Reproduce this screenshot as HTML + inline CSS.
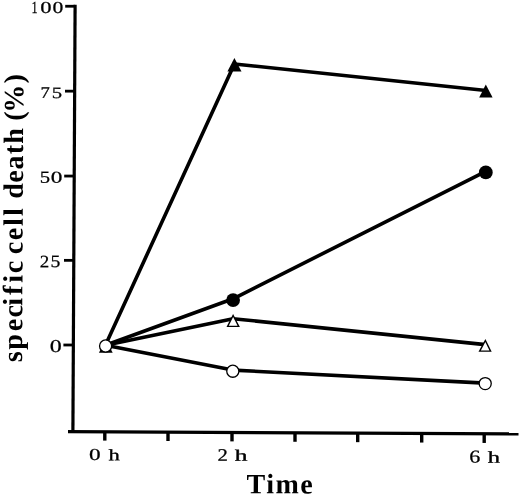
<!DOCTYPE html>
<html><head><meta charset="utf-8"><style>
html,body{margin:0;padding:0;background:#fff;width:520px;height:496px;overflow:hidden}
svg{display:block;will-change:transform}
text{font-family:"Liberation Serif",serif;fill:#000}
</style></head><body>
<svg width="520" height="496" viewBox="0 0 520 496">
<line x1="75.1" y1="4.8" x2="72.9" y2="432.2" stroke="#000" stroke-width="3.2"/>
<line x1="65.2" y1="6.25" x2="75.09" y2="6.25" stroke="#000" stroke-width="2.8"/>
<line x1="65.0" y1="91.15" x2="74.66" y2="91.15" stroke="#000" stroke-width="2.8"/>
<line x1="64.2" y1="176.05" x2="74.22" y2="176.05" stroke="#000" stroke-width="2.8"/>
<line x1="64.0" y1="260.35" x2="73.78" y2="260.35" stroke="#000" stroke-width="2.8"/>
<line x1="63.4" y1="345.0" x2="73.35" y2="345.0" stroke="#000" stroke-width="2.8"/>
<line x1="68" y1="431.6" x2="518.5" y2="433.95" stroke="#000" stroke-width="3.2"/>
<line x1="104.8" y1="431.79" x2="104.8" y2="440.60" stroke="#000" stroke-width="3.4"/>
<line x1="168" y1="432.12" x2="168" y2="440.99" stroke="#000" stroke-width="3.4"/>
<line x1="232" y1="432.45" x2="232" y2="441.39" stroke="#000" stroke-width="3.4"/>
<line x1="295" y1="432.78" x2="295" y2="441.78" stroke="#000" stroke-width="3.4"/>
<line x1="357.7" y1="433.11" x2="357.7" y2="442.17" stroke="#000" stroke-width="3.4"/>
<line x1="421.7" y1="433.44" x2="421.7" y2="442.56" stroke="#000" stroke-width="3.4"/>
<line x1="484.2" y1="433.76" x2="484.2" y2="442.95" stroke="#000" stroke-width="3.4"/>
<polyline points="105.40,345.30 234.40,64.00 486.00,90.50" fill="none" stroke="#000" stroke-width="3.6" stroke-linejoin="round"/>
<polyline points="105.40,345.30 233.10,298.80 485.80,171.30" fill="none" stroke="#000" stroke-width="3.6" stroke-linejoin="round"/>
<polyline points="105.40,345.30 233.10,318.70 485.40,344.60" fill="none" stroke="#000" stroke-width="3.6" stroke-linejoin="round"/>
<polyline points="105.40,345.30 232.80,370.10 485.20,383.10" fill="none" stroke="#000" stroke-width="3.6" stroke-linejoin="round"/>
<polygon points="105.80,339.50 98.90,352.70 112.70,352.70" fill="#000"/>
<polygon points="234.40,58.10 227.40,71.60 241.50,71.60" fill="#000"/>
<polygon points="485.80,84.40 479.20,97.60 492.60,97.60" fill="#000"/>
<circle cx="233.1" cy="300.1" r="6.9" fill="#000"/>
<circle cx="485.8" cy="172.4" r="6.9" fill="#000"/>
<polygon points="233.10,314.00 226.50,327.10 239.90,327.10" fill="#000"/>
<polygon points="233.12,317.07 228.77,325.70 237.60,325.70" fill="#fff"/>
<polygon points="485.40,339.00 478.50,351.80 491.70,351.80" fill="#000"/>
<polygon points="485.34,342.06 480.85,350.40 489.45,350.40" fill="#fff"/>
<circle cx="105.6" cy="346.0" r="6.05" fill="#fff" stroke="#000" stroke-width="1.3"/>
<circle cx="232.8" cy="371.2" r="6.05" fill="#fff" stroke="#000" stroke-width="1.3"/>
<circle cx="485.2" cy="383.6" r="6.05" fill="#fff" stroke="#000" stroke-width="1.3"/>
<text transform="translate(31.42,13.08) rotate(0.27) scale(0.713,1)" font-size="17.06" font-weight="normal" stroke="#000" stroke-width="0.25">1</text>
<text transform="translate(40.32,12.91) rotate(0.27) scale(1.350,1)" font-size="16.68" font-weight="normal" stroke="#000" stroke-width="0.25">0</text>
<text transform="translate(52.46,12.91) rotate(0.27) scale(1.293,1)" font-size="16.68" font-weight="normal" stroke="#000" stroke-width="0.25">0</text>
<text transform="translate(40.41,97.63) rotate(0.27) scale(1.156,1)" font-size="16.05" font-weight="normal" stroke="#000" stroke-width="0.25">7</text>
<text transform="translate(51.63,97.97) rotate(0.27) scale(1.307,1)" font-size="15.80" font-weight="normal" stroke="#000" stroke-width="0.25">5</text>
<text transform="translate(39.63,182.71) rotate(0.27) scale(1.220,1)" font-size="16.93" font-weight="normal" stroke="#000" stroke-width="0.25">5</text>
<text transform="translate(50.69,182.71) rotate(0.27) scale(1.393,1)" font-size="16.68" font-weight="normal" stroke="#000" stroke-width="0.25">0</text>
<text transform="translate(39.87,267.18) rotate(0.27) scale(1.079,1)" font-size="17.52" font-weight="normal" stroke="#000" stroke-width="0.25">2</text>
<text transform="translate(50.54,267.01) rotate(0.27) scale(1.130,1)" font-size="17.38" font-weight="normal" stroke="#000" stroke-width="0.25">5</text>
<text transform="translate(49.66,352.10) rotate(0.27) scale(1.319,1)" font-size="18.16" font-weight="normal" stroke="#000" stroke-width="0.25">0</text>
<text transform="translate(88.99,459.91) rotate(0.27) scale(1.393,1)" font-size="16.68" font-weight="normal" stroke="#000" stroke-width="0.25">0</text>
<text transform="translate(217.39,460.78) rotate(0.27) scale(1.169,1)" font-size="17.67" font-weight="normal" stroke="#000" stroke-width="0.25">2</text>
<text transform="translate(469.13,462.50) rotate(0.27) scale(1.224,1)" font-size="18.00" font-weight="normal" stroke="#000" stroke-width="0.25">6</text>
<text transform="translate(108.45,460.23) rotate(0.27) scale(1.398,1)" font-size="16.06" font-weight="normal" stroke="#000" stroke-width="0.35">h</text>
<text transform="translate(234.72,460.73) rotate(0.27) scale(1.581,1)" font-size="16.06" font-weight="normal" stroke="#000" stroke-width="0.35">h</text>
<text transform="translate(487.63,462.63) rotate(0.27) scale(1.451,1)" font-size="16.78" font-weight="normal" stroke="#000" stroke-width="0.35">h</text>
<text transform="translate(246.5,493.2) rotate(0.27) scale(1.0,1)" font-size="28" font-weight="bold" text-anchor="start" letter-spacing="1.5">Time</text>
<text transform="translate(22.02,365.0) rotate(-89.73)" x="2.85 15.35 33.80 47.45 59.25 70.03 82.35 91.80 104.23 110.70 124.65 138.90 149.10 156.88 166.20 182.20 195.45 210.85 221.15 236.72 244.25 252.35 281.50" y="0" font-size="28" font-weight="bold">specific cell death (%)</text>
</svg>
</body></html>
